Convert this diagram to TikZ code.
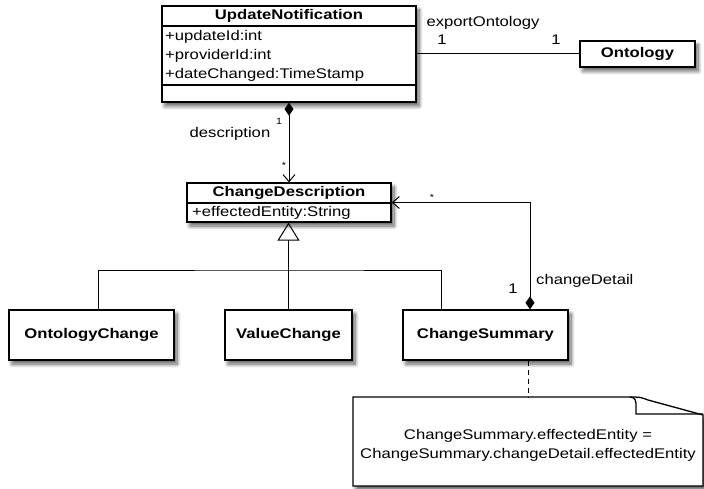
\documentclass[tikz,border=0pt]{standalone}
\usepackage{fontspec}
\setmainfont{Liberation Sans}[FakeStretch=1.19]
\usetikzlibrary{arrows.meta,shadows.blur}
\newcommand\umlfont{\fontsize{14}{19}\selectfont}
\newcommand\umlsmall{\fontsize{9}{10}\selectfont}
\begin{document}
\begin{tikzpicture}[x=1pt,y=-1pt,
  font=\umlfont,
  shad/.style={blur shadow={shadow xshift=3pt,shadow yshift=-4pt,shadow blur radius=4pt,shadow blur steps=8,shadow opacity=65}},
  box/.style={draw,line width=1.3pt,fill=white,shad,inner sep=0pt},
  ttl/.style={font=\umlfont\bfseries,inner sep=0pt},
  txt/.style={inner sep=0pt},
  lbl/.style={inner sep=0pt},
  sml/.style={font=\umlsmall,inner sep=0pt},
  conn/.style={line width=1pt},
  sep/.style={line width=1.3pt},
  comp/.style={conn,{Diamond[length=13pt,width=9pt]}-{Straight Barb[length=7pt,width=12pt]}},
]
\useasboundingbox (0,0) rectangle (704,489);

% UpdateNotification
\node[box,minimum width=254pt,minimum height=96pt] (un) at (289,54) {};
\node[ttl] (unT) at (289,16) {UpdateNotification};
\draw[sep] (un.west |- 0,26) -- (un.east |- 0,26);
\draw[sep] (un.west |- 0,85) -- (un.east |- 0,85);
\node[txt,anchor=west,align=left] (unA) at (165,56) {+updateId:int\\+providerId:int\\+dateChanged:TimeStamp};

% Ontology
\node[box,minimum width=115pt,minimum height=26pt,font=\umlfont\bfseries] (ont) at (637.5,54) {Ontology};
\draw[conn] (un.east) -- (ont.west);
\node[lbl] (eo) at (483,23) {exportOntology};
\node[lbl] (eo1) at (442,40) {1};
\node[lbl] (eo2) at (556,40) {1};

% ChangeDescription
\node[box,minimum width=204pt,minimum height=39pt] (cd) at (289,202.5) {};
\node[ttl] (cdT) at (289,193) {ChangeDescription};
\draw[sep] (cd.west |- 0,203) -- (cd.east |- 0,203);
\node[txt,anchor=west] (cdA) at (192,213) {+effectedEntity:String};

% composition description
\draw[comp] (un.south) -- (cd.north);
\node[sml] (d1) at (279,121) {1};
\node[sml] (d2) at (284,165) {*};
\node[lbl] (dl) at (230,134) {description};

% subclasses
\node[box,minimum width=165pt,minimum height=50pt,font=\umlfont\bfseries] (oc) at (91.5,335) {OntologyChange};
\node[box,minimum width=127pt,minimum height=50pt,font=\umlfont\bfseries] (vc) at (288.5,335) {ValueChange};
\node[box,minimum width=165pt,minimum height=50pt,font=\umlfont\bfseries] (cs) at (485.5,335) {ChangeSummary};
\coordinate (hub) at (288.5,270);
\draw[conn,-{Triangle[open,length=18pt,width=22pt]}] (vc.north) -- (vc.north |- cd.south);
\draw[conn] ([xshift=6.5pt]oc.north) |- (hub) -| ([xshift=-44.5pt]cs.north);

% changeDetail composition
\draw[comp] ([xshift=44.5pt]cs.north) |- (cd.east);
\node[sml] (c1) at (432,197) {*};
\node[lbl] (c2) at (513,289) {1};
\node[lbl,anchor=west] (cl) at (536,281) {changeDetail};

% note
\path[draw,line width=1.3pt,fill=white,shad] (353,397) -- (630,397) .. controls (640,397) .. (648,400) -- (703,415) -- (703,486) -- (353,486) -- cycle;
\draw[line width=1.3pt] (630,397) .. controls (636,397) and (636,402) .. (636,406) -- (636,414) -- (703,414);
\node[minimum width=350pt,minimum height=89pt,inner sep=0pt] (note) at (528,441.5) {};
\node[txt,align=center] (noteT) at (528,445) {ChangeSummary.effectedEntity =\\ChangeSummary.changeDetail.effectedEntity};
\draw[conn,dash pattern=on 5pt off 4pt] (cs.south -| note.north) -- (note.north);
\end{tikzpicture}
\end{document}
